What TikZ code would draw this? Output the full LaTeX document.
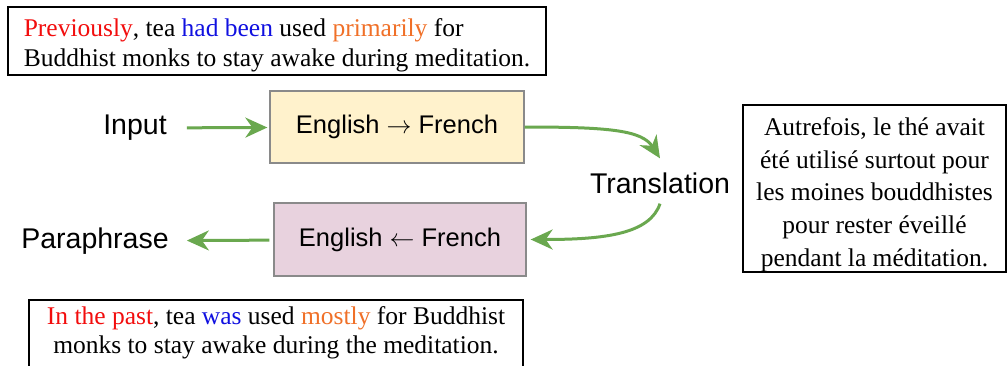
\documentclass[tikz,border=0pt]{standalone}
\usepackage{fontspec}
\setmainfont{Liberation Serif}
\setsansfont{Liberation Sans}
\usetikzlibrary{arrows.meta}
\definecolor{arrowgreen}{HTML}{6AA84F}
\definecolor{boxyellow}{HTML}{FFF2CC}
\definecolor{boxpink}{HTML}{E8D2DE}
\definecolor{framegray}{HTML}{8A8A8A}
\definecolor{wred}{HTML}{F20D0D}
\definecolor{wblue}{HTML}{1010E0}
\definecolor{worange}{HTML}{F07028}
\tikzset{
  frame/.style={draw=black, line width=2pt, inner sep=0pt},
  sentence/.style={inner sep=0pt, font=\fontsize{25.5}{30}\selectfont},
  stagebox/.style={draw=framegray, line width=1.3pt, inner sep=0pt,
    font=\sffamily\fontsize{25.5}{30}\selectfont},
  label/.style={inner sep=0pt, font=\sffamily\fontsize{28.5}{32}\selectfont},
  flow/.style={draw=arrowgreen, line width=3pt,
    -{Stealth[length=22pt, width=20pt, inset=7pt]}},
}
\begin{document}
\begin{tikzpicture}[x=1pt, y=-1pt]
\useasboundingbox (0,0) rectangle (1008,365);
\clip (0,0) rectangle (1008,365);

% source sentence
\node[frame, minimum width=538pt, minimum height=68pt] (src) at (277,41) {};
\node[sentence, align=left] (srctext) at (277,45)
  {\textcolor{wred}{Previously}, tea \textcolor{wblue}{had been} used \textcolor{worange}{primarily} for\\
   Buddhist monks to stay awake during meditation.};

% pipeline
\node[label] (in) at (135,128) {Input};
\node[stagebox, fill=boxyellow, minimum width=254pt, minimum height=72pt] (fwd) at (397,127)
  {English $\rightarrow$ French};
\node[label] (tr) at (660,183) {Translation};
\node[stagebox, fill=boxpink, minimum width=252pt, minimum height=73pt] (bwd) at (400,239.5)
  {English $\leftarrow$ French};
\node[label] (para) at (95,241) {Paraphrase};

% French translation
\node[frame, minimum width=263pt, minimum height=167pt] (fr) at (874.5,188.5) {};
\node[sentence, align=center, font=\fontsize{25.5}{32.75}\selectfont] (frtext)
  at (874.5,194.5)
  {Autrefois, le thé avait\\ été utilisé surtout pour\\ les moines bouddhistes\\
   pour rester éveillé\\ pendant la méditation.};

% paraphrase sentence (frame runs past the lower edge)
\node[frame, anchor=north, minimum width=494pt, minimum height=80pt] (out) at (276,299) {};
\node[sentence, align=center, font=\fontsize{25.5}{28.5}\selectfont] (outtext) at (276,333)
  {\textcolor{wred}{In the past}, tea \textcolor{wblue}{was} used \textcolor{worange}{mostly} for Buddhist\\
   monks to stay awake during the meditation.};

% connectors
\draw[flow, shorten <=20pt, shorten >=2pt] (in) -- (fwd);
\draw[flow] (fwd.east) .. controls +(85,0) and +(-18,-28) .. ([yshift=14pt]tr.north);
\draw[flow] ([yshift=-10pt]tr.south) .. controls +(-10,30) and +(75,0) .. ([xshift=4pt]bwd.east);
\draw[flow, shorten <=4pt, shorten >=18pt] (bwd) -- (para);
\end{tikzpicture}
\end{document}
